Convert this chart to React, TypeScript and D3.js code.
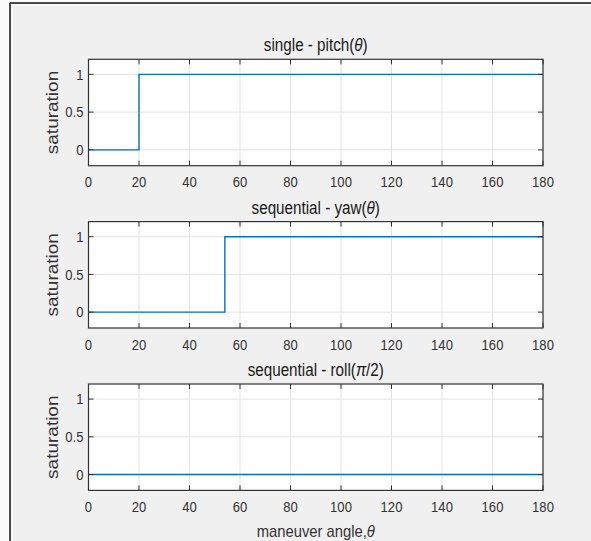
import React from "react";
import * as d3 from "d3";

// Saturation of the maneuver vs. maneuver angle (degrees)
const pitchAngle = [0, 20, 180];
const pitchSaturation = [0, 1, 1];
const yawAngle = [0, 54, 180];
const yawSaturation = [0, 1, 1];
const rollAngle = [0, 180];
const rollSaturation = [0, 0];

const xTicks = [0, 20, 40, 60, 80, 100, 120, 140, 160, 180];
const yTicks = [0, 0.5, 1];
const yTickLabels = ["0", "0.5", "1"];

const W = 591;
const H = 541;
const FONT = "'Liberation Sans', Arial, Helvetica, sans-serif";
const SQ = 0.87; // horizontal squeeze of the text

const left = 88.5;
const right = 543;
const panelH = 106.4;

type Panel = {
  top: number;
  title: React.ReactNode;
  angle: number[];
  sat: number[];
};

const panels: Panel[] = [
  {
    top: 59.3,
    title: (
      <>
        single - pitch(<tspan fontStyle="italic">θ</tspan>)
      </>
    ),
    angle: pitchAngle,
    sat: pitchSaturation,
  },
  {
    top: 221.6,
    title: (
      <>
        sequential - yaw(<tspan fontStyle="italic">θ</tspan>)
      </>
    ),
    angle: yawAngle,
    sat: yawSaturation,
  },
  {
    top: 384,
    title: (
      <>
        sequential - roll(<tspan fontStyle="italic">π</tspan>/2)
      </>
    ),
    angle: rollAngle,
    sat: rollSaturation,
  },
];

const x = d3.scaleLinear().domain([0, 180]).range([left, right]);

function Axes({ p }: { p: Panel }) {
  const y = d3
    .scaleLinear()
    .domain([-0.21, 1.2])
    .range([p.top + panelH, p.top]);
  const bottom = p.top + panelH;
  const pts = p.angle.map((a, i) => [a, p.sat[i]] as [number, number]);
  const line = d3
    .line<[number, number]>()
    .x((d) => x(d[0]))
    .y((d) => y(d[1]))
    .curve(d3.curveStepAfter);
  const cx = (left + right) / 2;
  const tk = 5;
  return (
    <g>
      <rect x={left} y={p.top} width={right - left} height={panelH} fill="#ffffff" />
      {/* grid */}
      {xTicks.map((t) => (
        <line key={"gx" + t} x1={x(t)} x2={x(t)} y1={p.top} y2={bottom} stroke="#e3e3e3" strokeWidth={1} />
      ))}
      {yTicks.map((t) => (
        <line key={"gy" + t} x1={left} x2={right} y1={y(t)} y2={y(t)} stroke="#e3e3e3" strokeWidth={1} />
      ))}
      {/* data */}
      <path d={line(pts) ?? ""} fill="none" stroke="#0072BD" strokeWidth={1.4} />
      {/* ticks */}
      {xTicks.map((t) => (
        <g key={"tx" + t}>
          <line x1={x(t)} x2={x(t)} y1={bottom} y2={bottom - tk} stroke="#333" strokeWidth={1} />
          <line x1={x(t)} x2={x(t)} y1={p.top} y2={p.top + tk} stroke="#333" strokeWidth={1} />
          <text
            transform={`translate(${x(t)},${bottom + 21.5}) scale(${SQ},1)`}
            textAnchor="middle"
            fontSize={15}
            fill="#333"
          >
            {t}
          </text>
        </g>
      ))}
      {yTicks.map((t, i) => (
        <g key={"ty" + t}>
          <line x1={left} x2={left + tk} y1={y(t)} y2={y(t)} stroke="#333" strokeWidth={1} />
          <line x1={right} x2={right - tk} y1={y(t)} y2={y(t)} stroke="#333" strokeWidth={1} />
          <text
            transform={`translate(${left - 5},${y(t) + 5.3}) scale(${SQ},1)`}
            textAnchor="end"
            fontSize={15}
            fill="#333"
          >
            {yTickLabels[i]}
          </text>
        </g>
      ))}
      <rect x={left} y={p.top} width={right - left} height={panelH} fill="none" stroke="#333" strokeWidth={1.2} />
      <text
        transform={`translate(${cx},${p.top - 8}) scale(${SQ},1)`}
        textAnchor="middle"
        fontSize={17.5}
        fill="#1a1a1a"
      >
        {p.title}
      </text>
      <text
        transform={`translate(57.5,${p.top + panelH / 2}) scale(${SQ},1) rotate(-90)`}
        textAnchor="middle"
        fontSize={19}
        fill="#333"
      >
        saturation
      </text>
    </g>
  );
}

export default function App() {
  return (
    <svg
      width={W}
      height={H}
      style={{ position: "absolute", left: 0, top: 0, display: "block" }}
      fontFamily={FONT}
    >
      <rect x={0} y={0} width={W} height={H} fill="#fbfbfb" />
      <rect x={10} y={3} width={W} height={H} fill="#f0f0f0" />
      {/* window frame */}
      <line x1={10} x2={W} y1={3} y2={3} stroke="#4a4a4a" strokeWidth={2} />
      <line x1={10} x2={10} y1={3} y2={H} stroke="#4a4a4a" strokeWidth={2} />
      <line x1={12.5} x2={W} y1={5.5} y2={5.5} stroke="#fafafa" strokeWidth={1} />
      <line x1={12.5} x2={12.5} y1={5.5} y2={H} stroke="#fafafa" strokeWidth={1} />
      {panels.map((p, i) => (
        <Axes key={i} p={p} />
      ))}
      <text
        transform={`translate(${(left + right) / 2},536.5) scale(${SQ},1)`}
        textAnchor="middle"
        fontSize={17}
        fill="#333"
      >
        maneuver angle,<tspan fontStyle="italic">θ</tspan>
      </text>
    </svg>
  );
}
